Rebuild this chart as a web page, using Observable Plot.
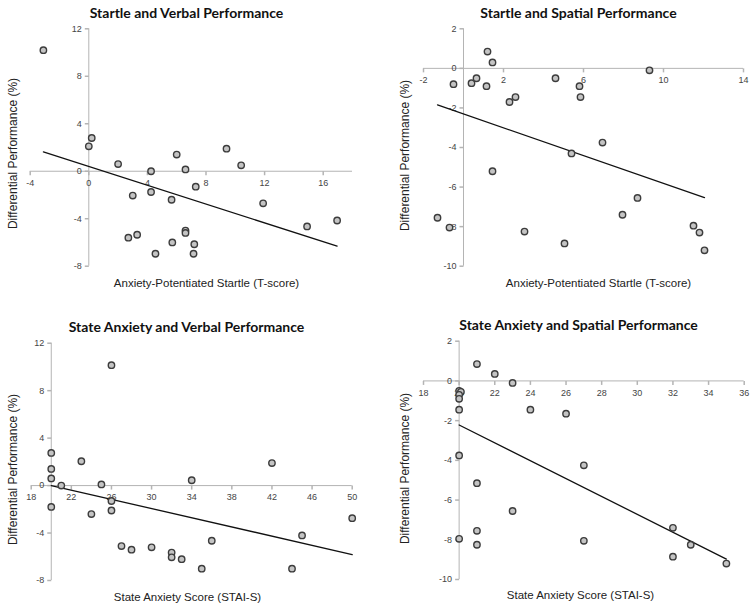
<!DOCTYPE html>
<html><head><meta charset="utf-8">
<script src="https://cdn.jsdelivr.net/npm/d3@7"></script>
<script src="https://cdn.jsdelivr.net/npm/@observablehq/plot@0.6"></script>
<style>
body{margin:0;background:#fff;}
#wrap{position:relative;width:755px;height:608px;overflow:hidden;background:#fff;}
.panel{position:absolute;}
</style></head><body><div id="wrap"></div>
<script>
// ---- Data ----
const titles = ["Startle and Verbal Performance", "Startle and Spatial Performance",
  "State Anxiety and Verbal Performance", "State Anxiety and Spatial Performance"];
const yTitle = "Differential Performance (%)";
const xTitles = ["Anxiety-Potentiated Startle (T-score)", "Anxiety-Potentiated Startle (T-score)",
  "State Anxiety Score (STAI-S)", "State Anxiety Score (STAI-S)"];

// Panel 1: Startle vs Verbal
const svX = [-3.1, 0.2, 0, 2.0, 4.25, 6.0, 6.6, 9.4, 10.4, 7.3, 4.25, 3.0, 5.65, 11.9, 14.9, 16.95, 6.6, 6.6, 2.7, 3.3, 5.7, 7.2, 4.55, 7.15];
const svY = [10.2, 2.8, 2.1, 0.6, 0, 1.4, 0.15, 1.9, 0.5, -1.3, -1.75, -2.05, -2.4, -2.7, -4.65, -4.15, -5.0, -5.2, -5.6, -5.35, -6.0, -6.15, -6.95, -6.95];
const svTrendX = [-3.1, 16.95];
const svTrendY = [1.63, -6.31];
const svXTicks = [-4, 0, 4, 8, 12, 16];
const svYTicks = [12, 8, 4, 0, -4, -8];

// Panel 2: Startle vs Spatial
const ssX = [1.2, 1.45, 9.3, -0.5, 0.4, 0.65, 1.15, 4.6, 5.8, 5.85, 2.6, 2.3, 6.95, 5.4, 1.45, 8.7, 7.95, -1.3, -0.7, 3.05, 5.05, 11.5, 11.8, 12.05];
const ssY = [0.85, 0.3, -0.1, -0.8, -0.75, -0.5, -0.9, -0.5, -0.9, -1.45, -1.45, -1.7, -3.75, -4.3, -5.2, -6.55, -7.4, -7.55, -8.05, -8.25, -8.85, -7.95, -8.3, -9.2];
const ssTrendX = [-1.3, 12.05];
const ssTrendY = [-1.85, -6.53];
const ssXTicks = [-2, 2, 6, 10, 14];
const ssYTicks = [2, 0, -2, -4, -6, -8, -10];

// Panel 3: State anxiety vs Verbal
const avX = [26, 20, 20, 20, 21, 23, 25, 34, 42, 20, 26, 26, 24, 50, 27, 28, 30, 32, 32, 33, 36, 35, 45, 44];
const avY = [10.15, 2.75, 1.4, 0.6, 0, 2.05, 0.1, 0.45, 1.9, -1.8, -1.3, -2.1, -2.4, -2.75, -5.1, -5.4, -5.2, -5.65, -6.05, -6.2, -4.65, -7.0, -4.2, -7.0];
const avTrendX = [20, 50];
const avTrendY = [0, -5.81];
const avXTicks = [18, 22, 26, 30, 34, 38, 42, 46, 50];
const avYTicks = [12, 8, 4, 0, -4, -8];

// Panel 4: State anxiety vs Spatial
const asX = [21, 22, 23, 20, 20.1, 20, 20, 20, 24, 26, 20, 27, 21, 23, 21, 20, 21, 27, 32, 32, 33, 35];
const asY = [0.85, 0.35, -0.1, -0.5, -0.55, -0.7, -0.9, -1.45, -1.45, -1.65, -3.75, -4.25, -5.15, -6.55, -7.55, -7.95, -8.25, -8.05, -7.4, -8.85, -8.25, -9.2];
const asTrendX = [20, 35];
const asTrendY = [-2.22, -8.97];
const asXTicks = [18, 20, 22, 24, 26, 28, 30, 32, 34, 36];
const asYTicks = [2, 0, -2, -4, -6, -8, -10];

// ---- Drawing ----
const AXIS = "#b4b4b4";
const TICKFONT = "'Liberation Sans', Arial, sans-serif";
const tickMarkY = {draw(ctx) { ctx.moveTo(-4, 0); ctx.lineTo(0, 0); }};
const tickMarkX = {draw(ctx) { ctx.moveTo(0, 0); ctx.lineTo(0, 4); }};

function panel(cfg) {
  const {left, top, width, height, ml, mr, mt, mb, xDomain, yDomain, xCross,
    xs, ys, tx, ty, xTicks, yTicks, title, xLabel, titlePos, xLabelPos, yLabelPos} = cfg;
  const at = (ax, ay) => ({frameAnchor: "top-left", dx: ax - left - ml, dy: ay - top - mt});
  const pts = xs.map((x, i) => ({x, y: ys[i]}));
  const trend = tx.map((x, i) => ({x, y: ty[i]}));
  const chart = Plot.plot({
    width, height, marginLeft: ml, marginRight: mr, marginTop: mt, marginBottom: mb,
    style: {background: "transparent", overflow: "visible"},
    x: {domain: xDomain, axis: null},
    y: {domain: yDomain, axis: null},
    marks: [
      Plot.ruleY([0], {stroke: AXIS, strokeWidth: 1}),
      Plot.ruleX([xCross], {stroke: AXIS, strokeWidth: 1}),
      Plot.dot(yTicks, {x: () => xCross, y: d => d, symbol: tickMarkY, stroke: AXIS, fill: "none"}),
      Plot.dot(xTicks, {x: d => d, y: () => 0, symbol: tickMarkX, stroke: AXIS, fill: "none"}),
      Plot.text(xTicks, {x: d => d, y: () => 0, dy: 12, text: d => String(d), fontSize: 9, fill: "#444", fontFamily: TICKFONT}),
      Plot.text(yTicks, {x: () => xCross, y: d => d, dx: -7, textAnchor: "end", text: d => String(d), fontSize: 9, fill: "#444", fontFamily: TICKFONT}),
      Plot.line(trend, {x: "x", y: "y", stroke: "#111", strokeWidth: 1.3}),
      Plot.dot(pts, {x: "x", y: "y", r: 3.2, fill: "#c4c4c4", stroke: "#3c3c3c", strokeWidth: 1.4}),
      Plot.text([title], {...at(titlePos[0], titlePos[1]), text: d => d, textAnchor: "middle", lineAnchor: "middle",
        fontSize: 14, fontWeight: "bold", fill: "#111", fontFamily: "Lato, sans-serif"}),
      Plot.text([xLabel], {...at(xLabelPos[0], xLabelPos[1]), text: d => d, textAnchor: "middle", lineAnchor: "middle",
        fontSize: 11.5, fill: "#222", fontFamily: TICKFONT}),
      Plot.text([yTitle], {...at(yLabelPos[0], yLabelPos[1]), text: d => d, textAnchor: "middle", lineAnchor: "middle",
        rotate: -90, fontSize: 12, fill: "#222", fontFamily: TICKFONT})
    ]
  });
  const div = document.createElement("div");
  div.className = "panel";
  div.style.left = left + "px";
  div.style.top = top + "px";
  div.appendChild(chart);
  document.getElementById("wrap").appendChild(div);
}

panel({left: 0, top: 0, width: 378, height: 300, ml: 29.7, mr: 26, mt: 28.3, mb: 34.3,
  xDomain: [-4, 18], yDomain: [-8, 12], xCross: 0, xs: svX, ys: svY, tx: svTrendX, ty: svTrendY,
  xTicks: svXTicks, yTicks: svYTicks, title: titles[0], xLabel: xTitles[0],
  titlePos: [186, 13], xLabelPos: [206, 283], yLabelPos: [13, 153]});

panel({left: 378, top: 0, width: 377, height: 300, ml: 45, mr: 12, mt: 28.3, mb: 34.3,
  xDomain: [-2, 14], yDomain: [-10, 2], xCross: 0, xs: ssX, ys: ssY, tx: ssTrendX, ty: ssTrendY,
  xTicks: ssXTicks, yTicks: ssYTicks, title: titles[1], xLabel: xTitles[1],
  titlePos: [578, 13], xLabelPos: [598, 283], yLabelPos: [405, 155]});

panel({left: 0, top: 300, width: 378, height: 308, ml: 30.7, mr: 26.3, mt: 42.7, mb: 28,
  xDomain: [18, 50], yDomain: [-8, 12], xCross: 20, xs: avX, ys: avY, tx: avTrendX, ty: avTrendY,
  xTicks: avXTicks, yTicks: avYTicks, title: titles[2], xLabel: xTitles[2],
  titlePos: [186, 327], xLabelPos: [187, 597], yLabelPos: [13, 469]});

panel({left: 378, top: 300, width: 377, height: 308, ml: 45, mr: 11.3, mt: 40.7, mb: 29,
  xDomain: [18, 36], yDomain: [-10, 2], xCross: 20, xs: asX, ys: asY, tx: asTrendX, ty: asTrendY,
  xTicks: asXTicks, yTicks: asYTicks, title: titles[3], xLabel: xTitles[3],
  titlePos: [578, 325], xLabelPos: [580, 595], yLabelPos: [405, 468]});
</script>
</body></html>
